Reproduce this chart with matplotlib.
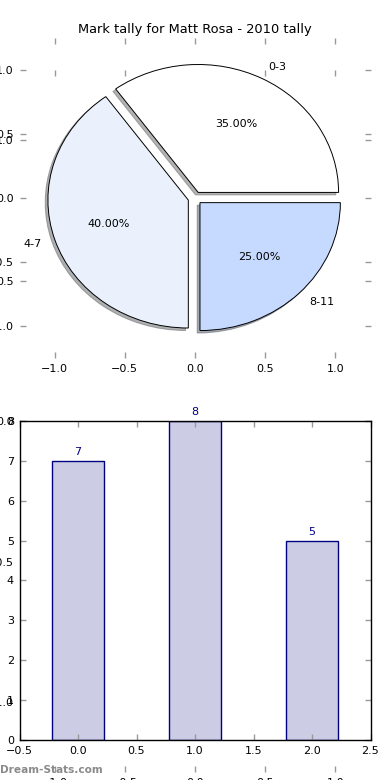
import matplotlib
matplotlib.use("Agg")
import matplotlib.pyplot as plt

# Data
pie_labels = ["0-3", "4-7", "8-11"]
pie_values = [35, 40, 25]
pie_colors = ["#FFFFFF", "#EAF1FD", "#C6D9FE"]
pie_explode = [0.05, 0.05, 0.05]

bar_positions = [0, 1, 2]
bar_values = [7, 8, 5]

title = "Mark tally for Matt Rosa - 2010 tally"
watermark = "Dream-Stats.com"

plt.rcParams["font.family"] = ["DejaVu Sans"]
plt.rcParams["font.size"] = 8

fig = plt.figure(figsize=(3.9, 7.8), dpi=100)
fig.patch.set_facecolor("white")

TICK_COLOR = "0.6"


def style_ticks(ax):
    ax.tick_params(direction="in", length=4, width=1, color=TICK_COLOR,
                   top=True, right=True, labelsize=8, pad=4)


def frameless(ax):
    for s in ax.spines.values():
        s.set_visible(False)
    ax.patch.set_visible(False)


# Large hidden pie axes (empty)
axB = fig.add_axes([0.05, 0.01, 0.9, 0.9])
axB.set_xlim(-1.25, 1.25)
axB.set_ylim(-1.25, 1.25)
axB.set_xticks([-1.0, -0.5, 0.0, 0.5, 1.0])
axB.set_yticks([-1.0, -0.5, 0.0, 0.5, 1.0])
frameless(axB)
style_ticks(axB)

# Pie axes
axA = fig.add_axes([0.05, 0.541, 0.9, 0.41])
wedges, texts, autotexts = axA.pie(
    pie_values, labels=pie_labels, colors=pie_colors, explode=pie_explode,
    autopct="%.2f%%", shadow=dict(ox=-0.014, oy=-0.014, shade=0.6),
    startangle=0, labeldistance=1.1,
    pctdistance=0.6, frame=True,
    wedgeprops=dict(edgecolor="black", linewidth=0.7),
    textprops=dict(fontsize=8))
axA.set_aspect("auto")
axA.set_xlim(-1.25, 1.25)
axA.set_ylim(-1.25, 1.25)
axA.set_xticks([-1.0, -0.5, 0.0, 0.5, 1.0])
axA.set_yticks([-1.0, -0.5, 0.0, 0.5, 1.0])
frameless(axA)
style_ticks(axA)
fig.text(0.5, 0.962, title, ha="center", va="center", fontsize=9.4)

# Bar axes
axC = fig.add_axes([0.05, 0.0513, 0.9, 0.409])
axC.patch.set_facecolor("white")
bars = axC.bar(bar_positions, bar_values, width=0.45, color="#CCCCE5",
               edgecolor="#000080", linewidth=1, align="center", zorder=1)
for x, v in zip(bar_positions, bar_values):
    axC.text(x, v + 0.1, str(v), ha="center", va="bottom",
             color="#000080", fontsize=8, clip_on=False)
axC.set_xlim(-0.5, 2.5)
axC.set_ylim(0, 8)
axC.set_xticks([-0.5, 0.0, 0.5, 1.0, 1.5, 2.0, 2.5])
axC.set_yticks(range(0, 9))
for s in axC.spines.values():
    s.set_linewidth(1)
    s.set_color("black")
style_ticks(axC)

fig.text(0.0, 0.0128, watermark, ha="left", va="center", fontsize=7.6,
         color="#8a8a8a", fontweight="bold")

fig.savefig("out.png", dpi=100)
